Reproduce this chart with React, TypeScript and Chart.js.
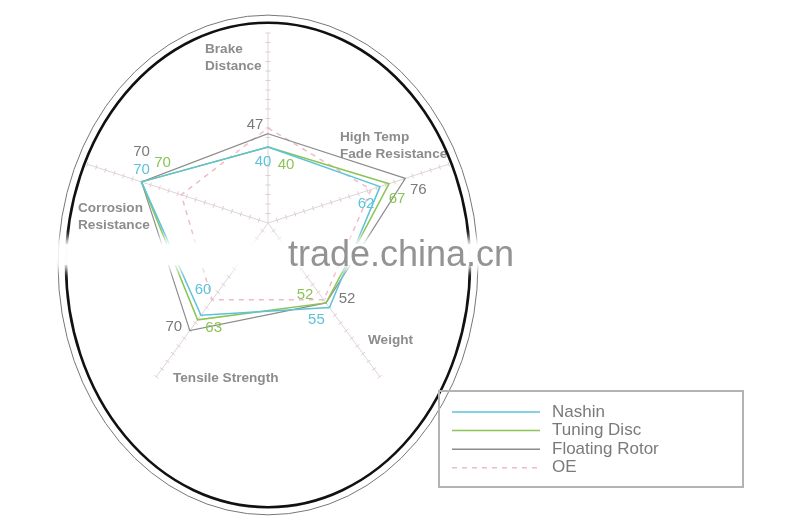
import { useEffect, useRef } from "react";
import { Chart, registerables } from "chart.js";

Chart.register(...registerables);

// categories (multi-line labels as arrays)
const categories = [
  ["Brake", "Distance"],
  ["High Temp", "Fade Resistance"],
  ["Weight"],
  ["Tensile Strength"],
  ["Corrosion", "Resistance"],
];

const seriesNames = ["Nashin", "Tuning Disc", "Floating Rotor", "OE"];

const nashin = [40, 62, 55, 60, 70];
const tuningDisc = [40, 67, 52, 63, 70];
const floatingRotor = [47, 76, 52, 70, 70];
const oe = [50, 57, 50, 50, 48];

const scaleMax = 100;
const tickStep = 5;

// styles
const colors = ["#5cc3da", "#8cc456", "#8c8c8c", "#efbcc6"];
const labelGray = "#8c8c8c";

// where each axis title sits, relative to the scale centre (px)
const axisLabelPos = [
  [-63, -174],
  [72, -86],
  [100, 117],
  [-95, 155],
  [-190, -15],
];

// value label offsets from each point (px); null = no labels for that series
const valueLabelOffsets: (number[][] | null)[] = [
  [[-5, 15], [-14, 17], [-13, 12], [2, -25], [0, -12]],
  [[18, 18], [8, 15], [-21, -8], [16, 8], [21, -19]],
  [[-13, -9], [13, 11], [21, -4], [-16, -4], [0, -30]],
  null,
];

const decorPlugin = {
  id: "decor",
  beforeDatasetsDraw(chart: any) {
    const scale = chart.scales.r;
    const ctx = chart.ctx;
    ctx.save();
    ctx.strokeStyle = "#e4cbd0";
    ctx.lineWidth = 1;
    for (let i = 0; i < categories.length; i++) {
      const a = scale.getIndexAngle(i) - Math.PI / 2;
      const px = -Math.sin(a);
      const py = Math.cos(a);
      for (let v = tickStep; v <= scaleMax; v += tickStep) {
        const p = scale.getPointPositionForValue(i, v);
        ctx.beginPath();
        ctx.moveTo(p.x - px * 2.5, p.y - py * 2.5);
        ctx.lineTo(p.x + px * 2.5, p.y + py * 2.5);
        ctx.stroke();
      }
    }
    ctx.restore();
  },
  afterDraw(chart: any) {
    const scale = chart.scales.r;
    const ctx = chart.ctx;
    const cx = scale.xCenter;
    const cy = scale.yCenter;
    const r = scale.drawingArea;
    ctx.save();

    // value labels
    ctx.font = '15px "Liberation Sans", Arial, sans-serif';
    ctx.textAlign = "center";
    ctx.textBaseline = "middle";
    chart.data.datasets.forEach((ds: any, d: number) => {
      const offs = valueLabelOffsets[d];
      if (!offs) return;
      const meta = chart.getDatasetMeta(d);
      ctx.fillStyle = d === 2 ? "#7a7a7a" : colors[d];
      meta.data.forEach((pt: any, i: number) => {
        ctx.fillText(String(ds.data[i]), pt.x + offs[i][0], pt.y + offs[i][1]);
      });
    });

    // axis titles
    ctx.font = 'bold 13.6px "Liberation Sans", Arial, sans-serif';
    ctx.textAlign = "left";
    ctx.fillStyle = labelGray;
    categories.forEach((lines, i) => {
      lines.forEach((line, j) => {
        ctx.fillText(line, cx + axisLabelPos[i][0], cy + axisLabelPos[i][1] + j * 17);
      });
    });

    // frame ellipses
    const ey = cy + r * 0.221;
    ctx.strokeStyle = "#111";
    ctx.lineWidth = 2.6;
    ctx.beginPath();
    ctx.ellipse(cx, ey, r * 1.063, r * 1.275, 0, 0, Math.PI * 2);
    ctx.stroke();
    ctx.strokeStyle = "#777";
    ctx.lineWidth = 1;
    ctx.beginPath();
    ctx.ellipse(cx, ey, r * 1.105, r * 1.315, 0, 0, Math.PI * 2);
    ctx.stroke();

    // watermark band + text
    ctx.save();
    ctx.filter = "blur(5px)";
    ctx.fillStyle = "rgba(255,255,255,0.95)";
    ctx.fillRect(52, 238, 476, 32);
    ctx.restore();
    ctx.fillStyle = "rgba(255,255,255,0.85)";
    ctx.fillRect(60, 244, 462, 21);
    ctx.font = '36px "Liberation Sans", Arial, sans-serif';
    ctx.textBaseline = "alphabetic";
    ctx.fillStyle = "#939393";
    ctx.fillText("trade.china.cn", 288, 266);

    // legend box
    ctx.strokeStyle = "#b3b3b3";
    ctx.lineWidth = 2;
    ctx.strokeRect(439, 391, 304, 96);
    ctx.font = '17px "Liberation Sans", Arial, sans-serif';
    ctx.textBaseline = "middle";
    seriesNames.forEach((name, k) => {
      const y = 412 + k * 18.6;
      ctx.strokeStyle = colors[k];
      ctx.lineWidth = 1.5;
      ctx.setLineDash(k === 3 ? [5, 5] : []);
      ctx.beginPath();
      ctx.moveTo(452, y);
      ctx.lineTo(540, y);
      ctx.stroke();
      ctx.fillStyle = "#7a7a7a";
      ctx.fillText(name, 552, y);
    });
    ctx.setLineDash([]);
    ctx.restore();
  },
};

export default function App() {
  const canvasRef = useRef<HTMLCanvasElement | null>(null);
  const chartRef = useRef<Chart<"radar"> | null>(null);

  useEffect(() => {
    if (!canvasRef.current) return;
    if (chartRef.current) chartRef.current.destroy();

    const series = [nashin, tuningDisc, floatingRotor, oe];
    chartRef.current = new Chart(canvasRef.current, {
      type: "radar",
      data: {
        labels: categories,
        datasets: series.map((values, k) => ({
          label: seriesNames[k],
          data: values,
          borderColor: colors[k],
          borderWidth: k === 2 ? 1.2 : 1.5,
          borderDash: k === 3 ? [5, 5] : [],
          backgroundColor: "transparent",
          fill: false,
          pointRadius: 0,
          tension: 0,
        })),
      },
      options: {
        animation: false,
        responsive: true,
        maintainAspectRatio: false,
        layout: { padding: { left: 78, top: 33, right: 342, bottom: 116 } },
        plugins: { legend: { display: false }, tooltip: { enabled: false } },
        scales: {
          r: {
            min: 0,
            max: scaleMax,
            ticks: { display: false, stepSize: tickStep },
            grid: { display: false },
            angleLines: { display: true, color: "#dcd6d8", lineWidth: 1 },
            pointLabels: { display: false },
          },
        },
      },
      plugins: [decorPlugin],
    });

    return () => {
      if (chartRef.current) {
        chartRef.current.destroy();
        chartRef.current = null;
      }
    };
  }, []);

  return (
    <div style={{ position: "fixed", left: 0, top: 0, width: 800, height: 529, background: "#fff" }}>
      <canvas ref={canvasRef} />
    </div>
  );
}
